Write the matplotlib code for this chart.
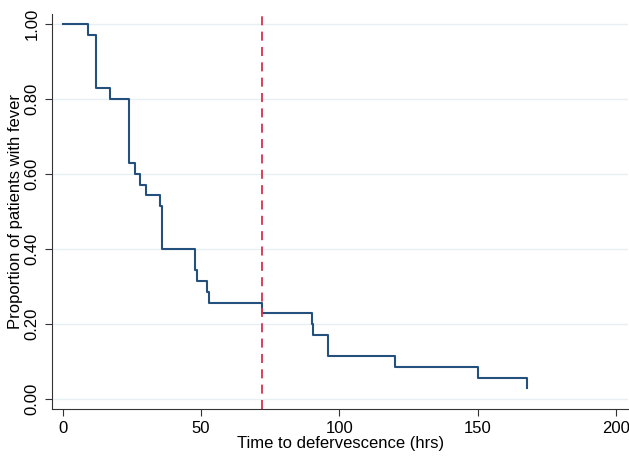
import numpy as np
import matplotlib.pyplot as plt

plt.rcParams['font.family'] = ['Liberation Sans', 'DejaVu Sans']

# Kaplan-Meier steps (n = 35)
times = [0, 9, 12, 17, 24, 26, 28, 30, 35, 36, 48, 48.5, 52, 53, 72, 90, 90.4, 96, 120, 150, 168]
surv = [1.000, 0.971, 0.829, 0.800, 0.629, 0.600, 0.571, 0.543, 0.514, 0.400,
        0.343, 0.314, 0.286, 0.257, 0.229, 0.200, 0.171, 0.114, 0.086, 0.057, 0.029]
cutoff = 72
yticks = [0.0, 0.2, 0.4, 0.6, 0.8, 1.0]
xticks = [0, 50, 100, 150, 200]

fig = plt.figure(figsize=(6.29, 4.58), dpi=100)
ax = fig.add_axes([0.083, 0.107, 0.916, 0.862])

ax.step(times + [times[-1]], [1.0] + surv, where='pre', color='#23507c', lw=1.5)
ax.axvline(cutoff, color='#d8304f', lw=1.3, ls=(0, (5, 3.5)))

ax.set_xlim(-3.8, 204.5)
ax.set_ylim(-0.027, 1.027)
ax.set_yticks(yticks)
ax.set_yticklabels([f'{v:.2f}' for v in yticks], rotation=90, va='center')
ax.set_xticks(xticks)
ax.yaxis.grid(True, color='#e6eff1', lw=1)
ax.set_axisbelow(True)

for s in ['top', 'right']:
    ax.spines[s].set_visible(False)
for s in ['left', 'bottom']:
    ax.spines[s].set_color('#333333')
ax.tick_params(labelsize=12, length=5, direction='out', color='#333333')
ax.tick_params(axis='y', pad=4)
ax.set_xlabel('Time to defervescence (hrs)', fontsize=12, labelpad=0)
ax.set_ylabel('Proportion of patients with fever', fontsize=12, labelpad=1)

fig.savefig('out.png', dpi=100)
